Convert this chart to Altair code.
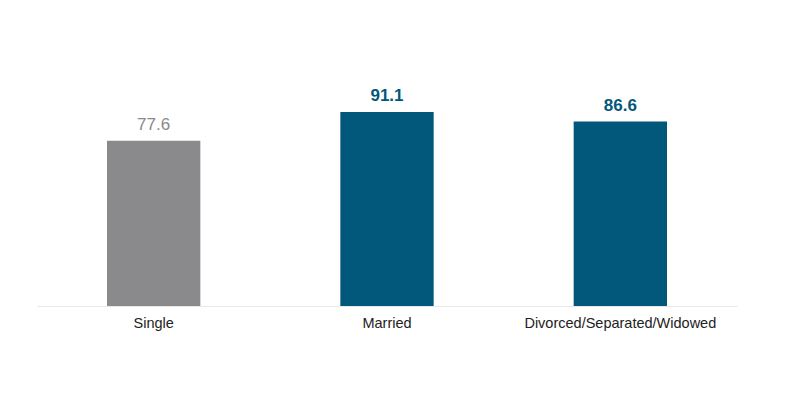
import altair as alt
import pandas as pd

categories = ["Single", "Married", "Divorced/Separated/Widowed"]
values = [77.6, 91.1, 86.6]
colors = ["#8a898b", "#02587b", "#02587b"]
weights = ["normal", "bold", "bold"]

df = pd.DataFrame({"cat": categories, "val": values, "color": colors, "weight": weights})

x = alt.X("cat:N", sort=categories,
          scale=alt.Scale(paddingInner=0.6, paddingOuter=0.3),
          axis=alt.Axis(title=None, labelAngle=0, labelFont="Liberation Sans",
                        labelFontSize=14.5, labelColor="#222222", labelPadding=10,
                        labelLimit=400,
                        ticks=False, domainColor="#e8e8e8", domainWidth=1, grid=False))
y = alt.Y("val:Q", scale=alt.Scale(domain=[0, 100]), axis=None)

bars = alt.Chart(df).mark_bar().encode(x=x, y=y, color=alt.Color("color:N", scale=None))

lab_normal = alt.Chart(df).transform_filter("datum.weight == 'normal'").mark_text(
    baseline="bottom", dy=-7, font="Liberation Sans", fontSize=17, fontWeight="normal"
).encode(x=x, y=y, text=alt.Text("val:Q", format=".1f"), color=alt.Color("color:N", scale=None))

lab_bold = alt.Chart(df).transform_filter("datum.weight == 'bold'").mark_text(
    baseline="bottom", dy=-7, font="Liberation Sans", fontSize=17, fontWeight="bold"
).encode(x=x, y=y, text=alt.Text("val:Q", format=".1f"), color=alt.Color("color:N", scale=None))

chart = (bars + lab_normal + lab_bold).properties(
    width=700, height=213,
    autosize=alt.AutoSizeParams(type="none"),
    padding={"left": 37, "top": 93, "right": 75, "bottom": 89},
    background="white",
).configure_view(stroke=None, strokeWidth=0)

chart.save("out.html", embed_options={"renderer": "svg", "actions": False})
